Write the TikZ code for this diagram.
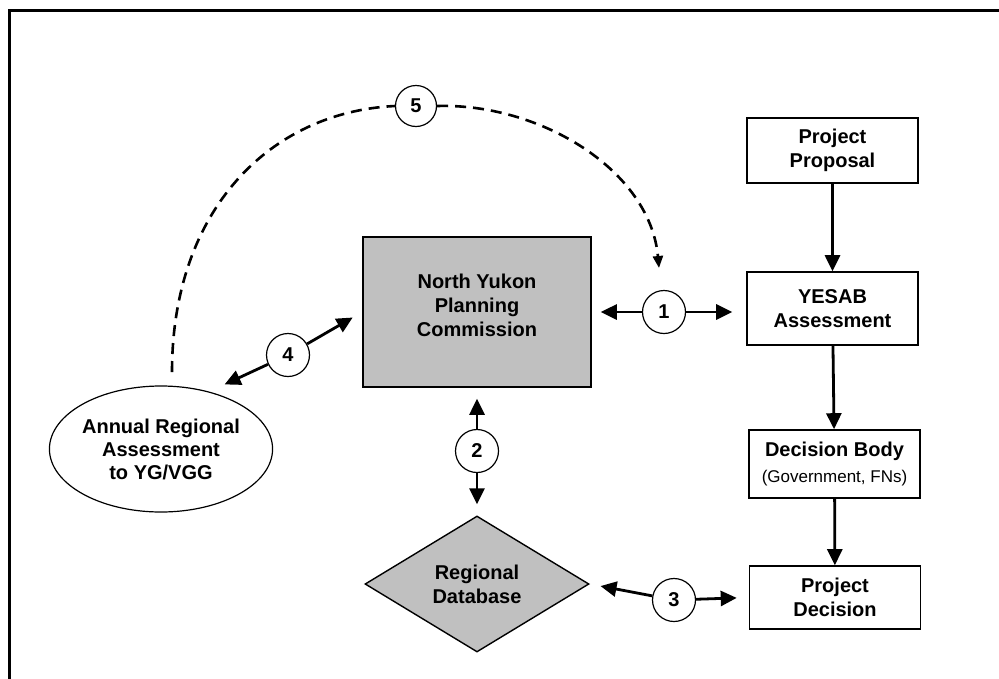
\documentclass[tikz,border=0pt]{standalone}
\usepackage{fontspec}
\setmainfont{Liberation Sans}
\usetikzlibrary{arrows.meta,shapes.geometric}
\definecolor{boxgray}{HTML}{C0C0C0}

\begin{document}
\begin{tikzpicture}[x=1pt, y=-1pt, >={Triangle[length=16pt,width=15pt]},
  box/.style={draw, line width=1.6pt, minimum width=171pt, align=center,
    font=\bfseries\fontsize{20}{24}\selectfont},
  num/.style={circle, draw, line width=1.2pt, fill=white, minimum size=43pt,
    inner sep=0pt, font=\bfseries\fontsize{20}{22}\selectfont},
  link/.style={->, line width=2.8pt}]
  \useasboundingbox (0,0) rectangle (999,678);
  % Frame
  \draw[line width=3pt] (9,700) -- (9,10) -- (1020,10);
  % Process boxes
  \node[box, minimum height=65pt] (prop) at (832.5,150.5) {Project\\Proposal};
  \node[box, minimum height=73pt] (yesab) at (832.5,308.5) {YESAB\\Assessment};
  \node[box, minimum height=68pt] (decb) at (834.5,464)
    {Decision Body\\[2pt]{\mdseries\fontsize{17}{20}\selectfont (Government, FNs)}};
  \node[box, minimum height=63pt] (pdec) at (835,597.5) {Project\\Decision};
  \node[box, fill=boxgray, minimum width=228pt, minimum height=150pt] (nypc)
    at (477,312) {North Yukon\\Planning\\Commission\\[-10pt]};
  \node[draw, ellipse, line width=1.2pt, minimum width=222pt, minimum height=126pt,
    inner sep=0pt, align=center, font=\bfseries\fontsize{20}{23}\selectfont] (ann)
    at (161,449) {Annual Regional\\Assessment\\to YG/VGG};
  \node[draw, diamond, fill=boxgray, line width=1.4pt, minimum width=224pt,
    minimum height=136pt, inner sep=0pt, align=center,
    font=\bfseries\fontsize{20}{24}\selectfont] (db) at (477,584) {Regional\\Database};
  % Numbered links
  \node[num] (c1) at (664,312) {1};
  \node[num] (c2) at (477,451) {2};
  \node[num] (c3) at (674,600) {3};
  \node[num] (c4) at (288,355) {4};
  \node[num, minimum size=41pt] (c5) at (416,106) {5};
  \draw[link, shorten >=9pt] (c1) -- (c1 -| nypc.east);
  \draw[link, shorten >=14pt] (c1) -- (c1 -| yesab.west);
  \draw[link, shorten >=11pt] (c2) -- (nypc.south);
  \draw[link, shorten >=11pt] (c2) -- (db.north);
  \draw[link, shorten >=11pt] (c3) -- (db.east);
  \draw[link, shorten >=12pt] (c3) -- (pdec.west);
  \draw[link, shorten >=11pt] (c4) -- (nypc.west);
  \draw[link, shorten >=17pt] (c4) -- (ann.50);
  % Main flow
  \foreach \a/\b in {prop/yesab, yesab/decb, decb/pdec}
    \draw[link] (\a) -- (\b);
  % Feedback loop
  \coordinate (dstart) at (172,372);
  \coordinate (dend) at (659,268);
  \draw[line width=2.6pt, dash pattern=on 11pt off 7pt]
    (dstart) .. controls (172,210) and (270,112) .. (c5.west);
  \draw[-{Triangle[length=12pt,width=10pt]}, line width=2.6pt, dash pattern=on 11pt off 7pt]
    (c5.east) .. controls (540,103) and (650,170) .. (dend);
\end{tikzpicture}
\end{document}
